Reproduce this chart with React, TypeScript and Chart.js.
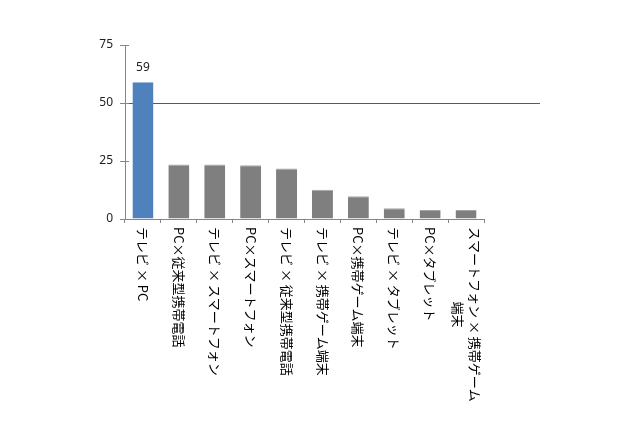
import { useEffect, useRef } from 'react'
import { Chart, registerables } from 'chart.js'
import type { Plugin } from 'chart.js'

Chart.register(...registerables)

const categories: string[][] = [
  ['テレビ × PC'],
  ['PC×従来型携帯電話'],
  ['テレビ × スマートフォン'],
  ['PC×スマートフォン'],
  ['テレビ × 従来型携帯電話'],
  ['テレビ × 携帯ゲーム端末'],
  ['PC×携帯ゲーム端末'],
  ['テレビ × タブレット'],
  ['PC×タブレット'],
  ['スマートフォン × 携帯ゲーム', '端末'],
]
const values = [59, 23.5, 23.5, 23.2, 21.8, 12.6, 9.8, 4.6, 3.9, 3.9]
const yTicks = [0, 25, 50, 75]
const referenceLine = 50
const highlightIndex = 0

const BLUE = '#4f81bd'
const GRAY = '#7f7f7f'
const AXIS = '#868686'
const LABEL_FONT = "13px 'Noto Sans CJK JP', sans-serif"
const NUM_FONT = "12px 'Noto Sans', 'DejaVu Sans', sans-serif"

/** Reference line, data label, inner tick marks and clockwise-rotated category labels */
const decorPlugin: Plugin<'bar'> = {
  id: 'decor',
  beforeDatasetsDraw(chart) {
    const { ctx, chartArea, scales } = chart
    const y = Math.round(scales.y.getPixelForValue(referenceLine)) + 0.5
    ctx.save()
    ctx.strokeStyle = '#2e6496'
    ctx.lineWidth = 1
    ctx.beginPath()
    ctx.moveTo(chartArea.left, y)
    ctx.lineTo(540, y)
    ctx.stroke()
    ctx.restore()
  },
  afterDraw(chart) {
    const { ctx, chartArea, scales } = chart
    ctx.save()

    // inner halves of the y-axis ticks
    ctx.strokeStyle = AXIS
    ctx.lineWidth = 1
    yTicks.forEach((t) => {
      const y = Math.round(scales.y.getPixelForValue(t)) + 0.5
      ctx.beginPath()
      ctx.moveTo(chartArea.left, y)
      ctx.lineTo(chartArea.left + 4, y)
      ctx.stroke()
    })

    // value label on highlighted bar
    const bar = chart.getDatasetMeta(0).data[highlightIndex]
    ctx.fillStyle = '#222'
    ctx.font = NUM_FONT
    ctx.textAlign = 'center'
    ctx.textBaseline = 'middle'
    ctx.fillText(String(Math.round(values[highlightIndex])), bar.x, bar.y - 15)

    // category labels, rotated 90deg clockwise, starting just below the axis
    ctx.font = LABEL_FONT
    ctx.fillStyle = '#000'
    const startY = chartArea.bottom + 8
    categories.forEach((lines, i) => {
      const x = scales.x.getPixelForValue(i)
      ctx.save()
      ctx.translate(x, startY)
      ctx.rotate(Math.PI / 2)
      const widths = lines.map((l) => ctx.measureText(l).width)
      const maxW = Math.max(...widths)
      lines.forEach((line, j) => {
        const off = (j - (lines.length - 1) / 2) * 17
        if (lines.length === 1) {
          ctx.textAlign = 'left'
          ctx.fillText(line, 0, off)
        } else {
          ctx.textAlign = 'center'
          ctx.fillText(line, maxW / 2, off)
        }
      })
      ctx.restore()
    })

    ctx.restore()
  },
}

export default function App() {
  const canvasRef = useRef<HTMLCanvasElement>(null)
  const chartRef = useRef<Chart<'bar'> | null>(null)

  useEffect(() => {
    if (!canvasRef.current) return
    const ctx = canvasRef.current.getContext('2d')
    if (!ctx) return

    chartRef.current = new Chart(ctx, {
      type: 'bar',
      data: {
        labels: categories.map((c) => c.join('')),
        datasets: [
          {
            data: values,
            backgroundColor: values.map((_, i) => (i === highlightIndex ? BLUE : GRAY)),
            borderColor: values.map((_, i) => (i === highlightIndex ? '#9fbbdc' : '#a6a6a6')),
            borderWidth: { top: 1, left: 0, right: 0, bottom: 0 },
            categoryPercentage: 1,
            barPercentage: 0.585,
          },
        ],
      },
      options: {
        responsive: true,
        maintainAspectRatio: false,
        animation: false,
        layout: { padding: { top: 45, right: 156, bottom: 0, left: 0 } },
        plugins: {
          legend: { display: false },
          tooltip: { enabled: false },
        },
        scales: {
          x: {
            offset: true,
            border: { color: AXIS },
            grid: { offset: true, drawOnChartArea: false, tickLength: 4, color: AXIS },
            ticks: { display: false },
            afterFit: (scale) => {
              scale.height = 207
            },
          },
          y: {
            min: 0,
            max: 75,
            border: { color: AXIS },
            grid: { drawOnChartArea: false, tickLength: 5, color: AXIS },
            ticks: {
              stepSize: 25,
              padding: 7,
              color: '#222',
              font: { family: "'Noto Sans', 'DejaVu Sans', sans-serif", size: 12 },
            },
            afterFit: (scale) => {
              scale.width = 125
            },
          },
        },
      },
      plugins: [decorPlugin],
    })

    return () => {
      if (chartRef.current) {
        chartRef.current.destroy()
        chartRef.current = null
      }
    }
  }, [])

  return (
    <div style={{ position: 'fixed', left: 0, top: 0, width: 640, height: 426, background: '#fff' }}>
      <canvas ref={canvasRef} />
    </div>
  )
}
